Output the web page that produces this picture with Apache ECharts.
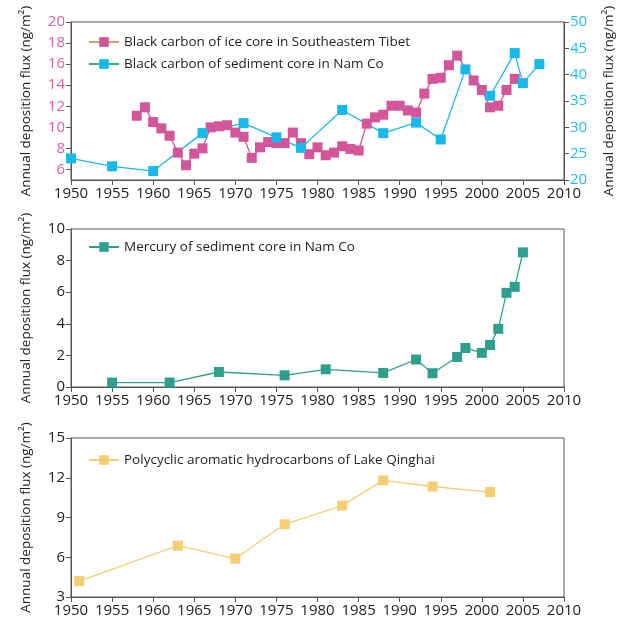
<!DOCTYPE html>
<html lang="en">
<head>
    <meta charset="utf-8" />
    <title>Annual deposition flux</title>
    <style>
        html, body { margin: 0; padding: 0; background: #fff; }
        #main { width: 627px; height: 620px; }
    </style>
</head>
<body>
    <div id="main"></div>
    <script src="https://cdn.jsdelivr.net/npm/echarts@6/dist/echarts.min.js"></script>
    <script type="text/javascript">
        // data
        var iceYears = [1958, 1959, 1960, 1961, 1962, 1963, 1964, 1965, 1966, 1967, 1968, 1969, 1970, 1971, 1972, 1973, 1974, 1975, 1976, 1977, 1978, 1979, 1980, 1981, 1982, 1983, 1984, 1985, 1986, 1987, 1988, 1989, 1990, 1991, 1992, 1993, 1994, 1995, 1996, 1997, 1999, 2000, 2001, 2002, 2003, 2004];
        var iceBC = [11.1, 11.9, 10.5, 9.9, 9.2, 7.6, 6.4, 7.5, 8.0, 10.0, 10.1, 10.2, 9.5, 9.1, 7.1, 8.1, 8.6, 8.5, 8.5, 9.5, 8.5, 7.45, 8.1, 7.35, 7.6, 8.2, 7.95, 7.8, 10.35, 10.95, 11.2, 12.05, 12.05, 11.6, 11.4, 13.2, 14.6, 14.7, 15.9, 16.8, 14.45, 13.55, 11.9, 12.05, 13.55, 14.6];

        var sedYears = [1950, 1955, 1960, 1966, 1971, 1975, 1978, 1983, 1988, 1992, 1995, 1998, 2001, 2004, 2005, 2007];
        var sedBC = [24.1, 22.6, 21.7, 28.9, 30.8, 28.1, 26.1, 33.3, 28.9, 30.9, 27.7, 41.0, 36.0, 44.1, 38.4, 42.0];

        var hgYears = [1955, 1962, 1968, 1976, 1981, 1988, 1992, 1994, 1997, 1998, 2000, 2001, 2002, 2003, 2004, 2005];
        var hgFlux = [0.28, 0.28, 0.95, 0.74, 1.12, 0.89, 1.74, 0.87, 1.9, 2.47, 2.16, 2.66, 3.68, 5.96, 6.34, 8.52];

        var pahYears = [1951, 1963, 1970, 1976, 1983, 1988, 1994, 2001];
        var pahFlux = [4.2, 6.87, 5.9, 8.49, 9.9, 11.8, 11.34, 10.92];

        var topLeftTicks = [6, 8, 10, 12, 14, 16, 18, 20];

        var names = [
            'Black carbon of ice core in Southeastem Tibet',
            'Black carbon of sediment core in Nam Co',
            'Mercury of sediment core in Nam Co',
            'Polycyclic aromatic hydrocarbons of Lake Qinghai'
        ];

        function pairs(xs, ys) {
            return xs.map(function (x, i) { return [x, ys[i]]; });
        }

        var font = '"Open Sans", "Noto Sans", sans-serif';
        var axisColor = '#555';
        var yTitle = 'Annual deposition flux (ng/m\u00b2)';

        var myChart = echarts.init(document.getElementById('main'));

        function xAxis(idx) {
            return {
                type: 'value', gridIndex: idx, min: 1950, max: 2010, interval: 5,
                axisLine: { show: true, lineStyle: { color: axisColor } },
                axisTick: { show: true, length: 5, lineStyle: { color: axisColor } },
                axisLabel: {
                    color: '#222', fontSize: 15, fontFamily: font, margin: 6,
                    formatter: function (v) { return String(v); }
                },
                splitLine: { show: false }
            };
        }

        function leftY(idx, min, max, interval, color, extra) {
            var a = {
                type: 'value', gridIndex: idx, min: min, max: max, interval: interval,
                name: yTitle, nameLocation: 'middle', nameGap: 38,
                nameTextStyle: { color: '#222', fontSize: 13.5, fontFamily: font },
                axisLine: { show: true, lineStyle: { color: axisColor } },
                axisTick: { show: true, length: 5, lineStyle: { color: axisColor } },
                axisLabel: { color: color, fontSize: 15, fontFamily: font, margin: 6 },
                splitLine: { show: false }
            };
            if (extra) {
                a.axisLabel.customValues = extra;
                a.axisTick.customValues = extra;
            }
            return a;
        }

        var grids = [
            { left: 71, right: 63, top: 22, height: 158 },
            { left: 71, right: 63, top: 229, height: 158 },
            { left: 71, right: 63, top: 438, height: 159 }
        ].map(function (g) {
            g.show = true;
            g.borderColor = axisColor;
            g.borderWidth = 1;
            return g;
        });

        function lineSeries(name, color, data, xi, yi) {
            return {
                name: name, type: 'line', xAxisIndex: xi, yAxisIndex: yi,
                data: data, symbol: 'rect', symbolSize: 10,
                lineStyle: { color: color, width: 1.3 },
                itemStyle: { color: color },
                emphasis: { disabled: true }
            };
        }

        function legend(top, items) {
            return {
                left: 83, top: top, orient: 'vertical', itemGap: 8,
                itemWidth: 30, itemHeight: 12,
                textStyle: { color: '#222', fontSize: 13.5, fontFamily: font },
                data: items
            };
        }

        var option = {
            animation: false,
            backgroundColor: '#fff',
            grid: grids,
            xAxis: [xAxis(0), xAxis(1), xAxis(2)],
            yAxis: [
                leftY(0, 5, 20, 1, '#df5ea0', topLeftTicks),
                {
                    type: 'value', gridIndex: 0, position: 'right', min: 20, max: 50, interval: 5,
                    name: yTitle, nameLocation: 'middle', nameGap: 38, nameRotate: 90,
                    nameTextStyle: { color: '#222', fontSize: 13.5, fontFamily: font },
                    axisLine: { show: true, lineStyle: { color: axisColor } },
                    axisTick: { show: true, length: 5, lineStyle: { color: axisColor } },
                    axisLabel: { color: '#22bdf0', fontSize: 15, fontFamily: font, margin: 6 },
                    splitLine: { show: false }
                },
                leftY(1, 0, 10, 2, '#222'),
                leftY(2, 3, 15, 3, '#222')
            ],
            legend: [
                legend(30, [
                    { name: names[0], lineStyle: { color: '#d8a070' } },
                    { name: names[1], lineStyle: { color: '#2fb87a' } }
                ]),
                legend(235, [names[2]]),
                legend(448, [names[3]])
            ],
            series: [
                lineSeries(names[0], '#d3559a', pairs(iceYears, iceBC), 0, 0),
                lineSeries(names[1], '#18b8ea', pairs(sedYears, sedBC), 0, 1),
                lineSeries(names[2], '#2e9e8f', pairs(hgYears, hgFlux), 1, 2),
                lineSeries(names[3], '#f6cd72', pairs(pahYears, pahFlux), 2, 3)
            ]
        };

        myChart.setOption(option);
    </script>
</body>
</html>
